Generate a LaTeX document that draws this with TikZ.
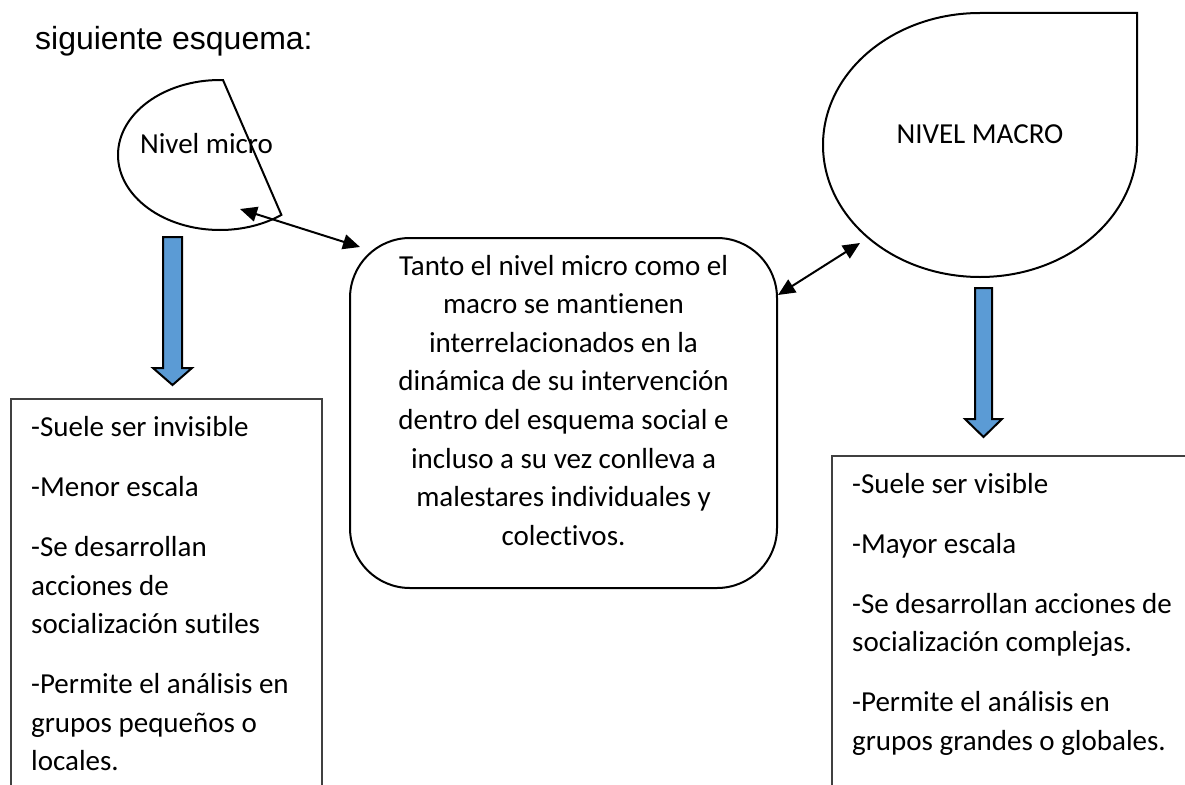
\documentclass[tikz,border=0pt]{standalone}
\usepackage{fontspec}
\setmainfont{Carlito}[Ligatures={NoCommon}]
\newfontfamily\arialfont{Liberation Sans}
\usetikzlibrary{arrows.meta}
\definecolor{arrowblue}{HTML}{5B9BD5}
\begin{document}
\begin{tikzpicture}[x=1pt,y=1pt,
  lbl/.style={inner sep=0pt, font=\fontsize{29}{38}\selectfont},
  shapeline/.style={draw=black, line width=2pt},
  listbox/.style={draw=black!75, line width=1.2pt},
  link/.style={line width=2pt, {Triangle[length=17pt,width=15pt]}-{Triangle[length=17pt,width=15pt]}},
  blockarrow/.style={draw=black, line width=2pt, fill=arrowblue, line join=miter},
  roundbox/.style={draw=black, line width=2pt, rounded corners=60pt, minimum width=427pt, minimum height=350pt, inner sep=0pt}]
\useasboundingbox (0,0) rectangle (1185,-784);
\clip (0,0) rectangle (1185,-784);
\fill[white] (0,0) rectangle (1185,-784);

% title
\node[inner sep=0pt, anchor=base west, font=\arialfont\fontsize{32}{38}\selectfont] (title) at (35,-49) {siguiente esquema:};

% nivel micro shape
\draw[shapeline] (220,-80) arc[start angle=90, end angle=307, x radius=102pt, y radius=75pt] -- (223,-80) -- cycle;
\node[lbl, anchor=base] (micro) at (206.5,-153) {Nivel micro};

% nivel macro teardrop
\draw[shapeline] (980,-13) -- (1137,-13) -- (1137,-145) arc[start angle=0, end angle=-270, x radius=157pt, y radius=132pt] -- cycle;
\node[lbl, anchor=base] (macro) at (980,-143) {NIVEL MACRO};

% center box
\node[roundbox] (box) at (563.5,-413) {};
\foreach \y/\t [count=\i] in {
  275/Tanto el nivel micro como el,
  313.6/macro se mantienen,
  352.2/interrelacionados en la,
  390.8/dinámica de su intervención,
  429.4/dentro del esquema social e,
  468/incluso a su vez conlleva a,
  506.6/malestares individuales y,
  545.2/colectivos.}
  \node[lbl, anchor=base] (c\i) at (563.5,-\y) {\t};

% connectors
\coordinate (microend) at (240,-209);
\coordinate (boxleft) at (360,-247);
\coordinate (boxright) at (778,-295);
\coordinate (macroend) at (860,-243);
\draw[link] (microend) -- (boxleft);
\draw[link] (boxright) -- (macroend);

% blue block arrows
\draw[blockarrow] (163,-237) -- (182,-237) -- (182,-368) -- (192,-368) -- (172.5,-385) -- (153,-368) -- (163,-368) -- cycle;
\draw[blockarrow] (975,-288) -- (992,-288) -- (992,-419) -- (1002,-419) -- (983.5,-437) -- (965,-419) -- (975,-419) -- cycle;

% left list box
\draw[listbox] (11,-800) -- (11,-399) -- (322,-399) -- (322,-800);
\foreach \y/\t [count=\i] in {
  436.5/-Suele ser invisible,
  496.5/-Menor escala,
  556.5/-Se desarrollan,
  595.1/acciones de,
  633.7/socialización sutiles,
  693.7/-Permite el análisis en,
  732.3/grupos pequeños o,
  770.9/locales.}
  \node[lbl, anchor=base west] (l\i) at (31,-\y) {\t};

% right list box
\draw[listbox] (832,-800) -- (832,-456) -- (1190,-456);
\foreach \y/\t [count=\i] in {
  493/-Suele ser visible,
  553/-Mayor escala,
  613/-Se desarrollan acciones de,
  651.6/socialización complejas.,
  711.6/-Permite el análisis en,
  750.2/grupos grandes o globales.}
  \node[lbl, anchor=base west] (r\i) at (852,-\y) {\t};
\end{tikzpicture}
\end{document}
